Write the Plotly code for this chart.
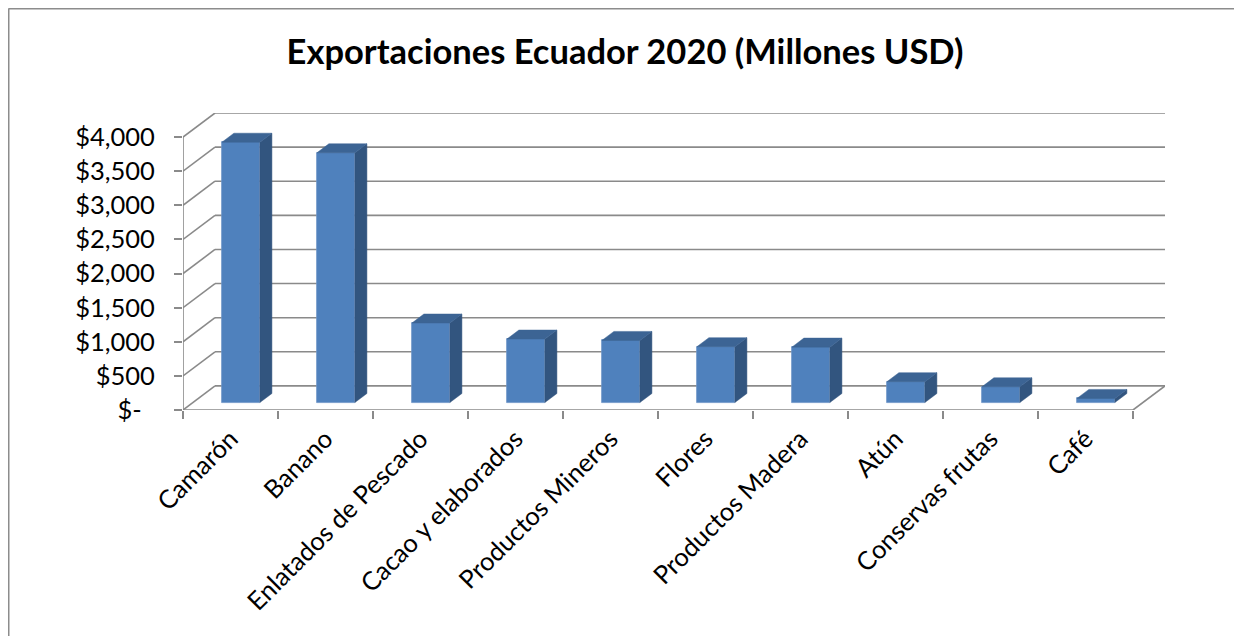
import plotly.graph_objects as go

# ---------------- data ----------------
categories = ["Camarón", "Banano", "Enlatados de Pescado", "Cacao y elaborados",
              "Productos Mineros", "Flores", "Productos Madera", "Atún",
              "Conservas frutas", "Café"]
values = [3815, 3660, 1165, 930, 910, 818, 812, 305, 230, 60]
y_ticks = [0, 500, 1000, 1500, 2000, 2500, 3000, 3500, 4000]
y_tick_labels = ["$-\u00a0\u00a0", "$500", "$1,000", "$1,500", "$2,000",
                 "$2,500", "$3,000", "$3,500", "$4,000"]
title_text = "Exportaciones Ecuador 2020 (Millones USD)"

# ---------------- 3-D geometry (in axis units) ----------------
n = len(categories)
YMAX = y_ticks[-1]
DX = 0.337          # full depth of the floor, category units
DY = 353            # full depth of the floor, value units
F0 = 0.31           # depth fraction where bar fronts sit
FD = 0.375          # bar depth as fraction of floor depth
BAR_W = 0.4
bx = F0 * DX
by = F0 * DY
bdx = FD * DX
bdy = FD * DY

GRID = "#8a8a8a"
FRONT = "#4F81BD"
SIDE = "#32557F"
TOP = "#3C6494"
FONT = "Lato"
TICK_SIZE = 25.5

W, H = 1234, 628
L, T, R, B = 175, 105, 77, 226
PW = W - L - R
PH = H - T - B

fig = go.Figure()

# front faces as bars
xc = [i + bx + 0.005 for i in range(n)]
fig.add_trace(go.Bar(x=xc, y=values, base=[by] * n, width=BAR_W,
                     marker=dict(color=FRONT, line=dict(color="#6f95c6", width=0.8)),
                     hoverinfo="skip", showlegend=False))

# side and top faces
sx, sy, tx, ty = [], [], [], []
for c, v in zip(xc, values):
    xl, xr = c - BAR_W / 2, c + BAR_W / 2
    yb, yt = by, by + v
    sx += [xr, xr + bdx, xr + bdx, xr, xr, None]
    sy += [yb, yb + bdy, yt + bdy, yt, yb, None]
    tx += [xl, xl + bdx, xr + bdx, xr, xl, None]
    ty += [yt, yt + bdy, yt + bdy, yt, yt, None]
fig.add_trace(go.Scatter(x=sx, y=sy, fill="toself", fillcolor=SIDE, mode="lines",
                         line=dict(color=SIDE, width=0.5), hoverinfo="skip", showlegend=False))
fig.add_trace(go.Scatter(x=tx, y=ty, fill="toself", fillcolor=TOP, mode="lines",
                         line=dict(color=TOP, width=0.5), hoverinfo="skip", showlegend=False))

# walls / floor lines (below traces)
shapes = []
x_left, x_right = -0.5, n - 0.5
for v in y_ticks:
    shapes.append(dict(type="line", xref="x", yref="y", layer="below",
                       x0=x_left + DX, x1=x_right + DX, y0=v + DY, y1=v + DY,
                       line=dict(color=GRID, width=1.6)))
    shapes.append(dict(type="line", xref="x", yref="y", layer="below",
                       x0=x_left, x1=x_left + DX, y0=v, y1=v + DY,
                       line=dict(color=GRID, width=1.6)))
# floor front edge, floor right edge, front vertical axis
shapes.append(dict(type="line", xref="x", yref="y", layer="below",
                   x0=x_left, x1=x_right, y0=0, y1=0, line=dict(color=GRID, width=1.6)))
shapes.append(dict(type="line", xref="x", yref="y", layer="below",
                   x0=x_right, x1=x_right + DX, y0=0, y1=DY, line=dict(color=GRID, width=1.6)))
shapes.append(dict(type="line", xref="x", yref="y", layer="below",
                   x0=x_left, x1=x_left, y0=0, y1=YMAX, line=dict(color=GRID, width=1.6)))

# outer chart border (only left and top edges are visible)
bx0 = (0.5 - L) / PW
bx1 = (W + 20 - L) / PW
by0 = ((H - B) - (H + 20)) / PH
by1 = ((H - B) - 0.5) / PH
shapes.append(dict(type="line", xref="paper", yref="paper", layer="below",
                   x0=bx0, x1=bx0, y0=by0, y1=by1, line=dict(color="#8c8c8c", width=2)))
shapes.append(dict(type="line", xref="paper", yref="paper", layer="below",
                   x0=bx0, x1=bx1, y0=by1, y1=by1, line=dict(color="#8c8c8c", width=2)))

fig.update_layout(
    width=W, height=H,
    margin=dict(l=L, r=R, t=T, b=B, pad=0),
    paper_bgcolor="white", plot_bgcolor="rgba(0,0,0,0)",
    title=dict(text=title_text, x=0.5, xref="container", xanchor="center",
               y=1 - 44 / H, yref="container", yanchor="middle",
               font=dict(family=FONT, size=34.5, color="black", weight="bold")),
    shapes=shapes,
    showlegend=False,
    bargap=0,
)
fig.update_xaxes(range=[x_left, x_right + DX], showgrid=False, zeroline=False, showline=False,
                 tickmode="array", tickvals=list(range(n)), ticktext=categories,
                 tickangle=-45, ticks="", ticklabelstandoff=8,
                 tickfont=dict(family=FONT, size=TICK_SIZE, color="black"),
                 minor=dict(tickmode="array", tickvals=[i - 0.5 for i in range(n + 1)],
                            ticks="outside", ticklen=8, tickcolor=GRID, tickwidth=1.6),
                 fixedrange=True)
fig.update_yaxes(range=[0, YMAX + DY], showgrid=False, zeroline=False, showline=False,
                 tickmode="array", tickvals=y_ticks, ticktext=y_tick_labels,
                 ticks="outside", ticklen=8, tickcolor=GRID, tickwidth=1.6,
                 ticklabelstandoff=14,
                 tickfont=dict(family=FONT, size=TICK_SIZE, color="black"), fixedrange=True)

fig.write_html("out.html", post_script="document.body.style.overflow='hidden';")
